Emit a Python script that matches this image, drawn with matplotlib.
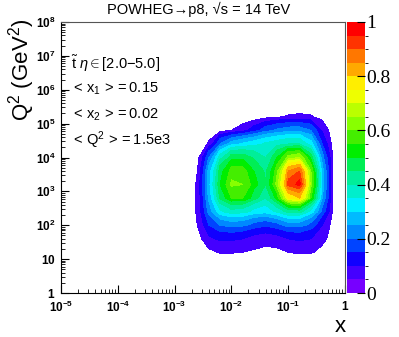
import numpy as np
import matplotlib
matplotlib.use("Agg")
import matplotlib.pyplot as plt
from matplotlib.colors import ListedColormap, BoundaryNorm
from matplotlib.cm import ScalarMappable
from matplotlib.ticker import LogLocator, NullFormatter

plt.rcParams['font.family'] = ['Liberation Sans', 'DejaVu Sans']
plt.rcParams['mathtext.fontset'] = 'custom'
plt.rcParams['mathtext.rm'] = 'Liberation Sans'
plt.rcParams['mathtext.it'] = 'Liberation Sans:italic'
plt.rcParams['mathtext.bf'] = 'Liberation Sans:bold'

# grid in log10(x) and log10(Q^2)
log_x = [-2.8, -2.6, -2.4, -2.2, -2.0, -1.8, -1.6, -1.4, -1.2, -1.0, -0.8, -0.6, -0.4, -0.2, 0.0]
log_q2 = [0.8, 1.2, 1.6, 2.0, 2.4, 2.8, 3.2, 3.6, 4.0, 4.4, 4.8, 5.2, 5.6]

# normalised density, one row per log_q2 value
density = [
    [0, 0,    0,    0,     0,     0,    0,    0,    0,     0,    0,    0,     0,    0,    0],
    [0, 0,    0.04, 0.055, 0.055, 0.05, 0.045, 0.04, 0.04, 0.05, 0.06, 0.055, 0.035, 0,   0],
    [0, 0.03, 0.09, 0.11,  0.11,  0.10, 0.08, 0.07, 0.08,  0.10, 0.11, 0.10,  0.07, 0.01, 0],
    [0, 0.05, 0.15, 0.20,  0.22,  0.21, 0.18, 0.16, 0.18,  0.22, 0.22, 0.18,  0.10, 0.02, 0],
    [0, 0.06, 0.22, 0.34,  0.38,  0.37, 0.33, 0.32, 0.36,  0.42, 0.42, 0.33,  0.18, 0.03, 0],
    [0, 0.06, 0.26, 0.46,  0.55,  0.55, 0.47, 0.40, 0.52,  0.75, 0.80, 0.55,  0.25, 0.03, 0],
    [0, 0.06, 0.28, 0.50,  0.61,  0.60, 0.52, 0.45, 0.62,  0.92, 0.97, 0.62,  0.28, 0.02, 0],
    [0, 0.05, 0.27, 0.48,  0.57,  0.57, 0.50, 0.44, 0.58,  0.85, 0.90, 0.60,  0.27, 0.03, 0],
    [0, 0.03, 0.20, 0.38,  0.48,  0.48, 0.44, 0.40, 0.50,  0.62, 0.65, 0.48,  0.22, 0.03, 0],
    [0, 0,    0.06, 0.20,  0.28,  0.31, 0.33, 0.36, 0.38,  0.40, 0.40, 0.32,  0.15, 0.02, 0],
    [0, 0,    0,    0.03,  0.05,  0.08, 0.13, 0.18, 0.21,  0.23, 0.23, 0.20,  0.09, 0.01, 0],
    [0, 0,    0,    0,     0,     0,    0.01, 0.03, 0.045, 0.055, 0.06, 0.055, 0.03, 0,   0],
    [0, 0,    0,    0,     0,     0,    0,    0,    0,     0,    0,    0,     0,    0,    0],
]

palette = ['#7700ff', '#4400ff', '#1100ff', '#0044ff', '#0088ff', '#00bbff', '#00eeff',
           '#00eecc', '#00ee99', '#00ee55', '#00ee00', '#44ee00', '#88ff00', '#bbff00',
           '#eeff00', '#ffee00', '#ffaa00', '#ff7700', '#ff3300', '#ff0000']
levels = np.linspace(0, 1, 21)

cmap = ListedColormap(palette)
norm = BoundaryNorm(levels, cmap.N)

fig = plt.figure(figsize=(3.99, 3.37), dpi=100)
ax = fig.add_axes([61/399, 1-293/337, 284/399, 271/337])
cax = fig.add_axes([347/399, 1-293/337, 18/399, 271/337])

X, Y = np.meshgrid(10.0**np.array(log_x), 10.0**np.array(log_q2))
Z = np.array(density)
ax.contourf(X, Y, Z, levels=levels[1:], cmap=ListedColormap(palette[1:]),
            norm=BoundaryNorm(levels[1:], len(palette) - 1))

ax.set_xscale('log')
ax.set_yscale('log')
ax.set_xlim(1e-5, 1)
ax.set_ylim(1, 1e8)

# ROOT-like frame
for s in ['top', 'right']:
    ax.spines[s].set_color('#555555')
for s in ['left', 'bottom']:
    ax.spines[s].set_color('black')
ax.tick_params(which='both', direction='in', top=False, right=False)
ax.tick_params(which='major', length=6, width=0.8)
ax.tick_params(which='minor', length=3, width=0.6)
ax.xaxis.set_minor_locator(LogLocator(base=10, subs=np.arange(2, 10), numticks=20))
ax.yaxis.set_minor_locator(LogLocator(base=10, subs=np.arange(2, 10), numticks=20))
ax.xaxis.set_minor_formatter(NullFormatter())
ax.yaxis.set_minor_formatter(NullFormatter())

xticks = [1e-5, 1e-4, 1e-3, 1e-2, 1e-1, 1]
xlabels = [r'$\mathbf{10^{-5}}$', r'$\mathbf{10^{-4}}$', r'$\mathbf{10^{-3}}$',
           r'$\mathbf{10^{-2}}$', r'$\mathbf{10^{-1}}$', r'$\mathbf{1}$']
yticks = [1, 10, 1e2, 1e3, 1e4, 1e5, 1e6, 1e7, 1e8]
ylabels = [r'$\mathbf{1}$', r'$\mathbf{10}$'] + [r'$\mathbf{10^{%d}}$' % k for k in range(2, 9)]
ax.set_xticks(xticks)
ax.set_xticklabels(xlabels, fontsize=8.5)
ax.set_yticks(yticks)
ax.set_yticklabels(ylabels, fontsize=8.5)
ax.tick_params(axis='x', pad=5)
ax.tick_params(axis='y', pad=4)

# colorbar
cb = fig.colorbar(ScalarMappable(norm=norm, cmap=cmap), cax=cax, ticks=[0, 0.2, 0.4, 0.6, 0.8, 1])
cb.outline.set_visible(False)
cax.tick_params(direction='in', length=6, width=0.8, pad=1)
cax.set_yticklabels(['0', '0.2', '0.4', '0.6', '0.8', '1'], family='Liberation Serif', fontsize=14)

# texts
fig.text(199/399, 1-9/337, u'POWHEG\u2192p8, \u221as = 14 TeV', ha='center', va='center', fontsize=10.5)
ax.text(0.035, 0.848, r'$\tilde{\mathrm{t}}\ \eta \in [2.0\mathrm{-}5.0]$', transform=ax.transAxes,
        fontsize=10.5, va='center')
ax.text(0.035, 0.752, r'$<\,\mathrm{x}_{1}\,> = 0.15$', transform=ax.transAxes, fontsize=10.5, va='center')
ax.text(0.035, 0.658, r'$<\,\mathrm{x}_{2}\,> = 0.02$', transform=ax.transAxes, fontsize=10.5, va='center')
ax.text(0.035, 0.565, r'$<\,\mathrm{Q}^{2}\,> = 1.5\mathrm{e}3$', transform=ax.transAxes, fontsize=10.5, va='center')

fig.text(22/399, 1-70/337, r'Q$^{2}$ (GeV$^{2}$)', rotation=90, ha='center', va='center', fontsize=16)
fig.text(340/399, 1-326/337, 'x', ha='center', va='center', fontsize=16)

fig.savefig('out.png', dpi=100)
